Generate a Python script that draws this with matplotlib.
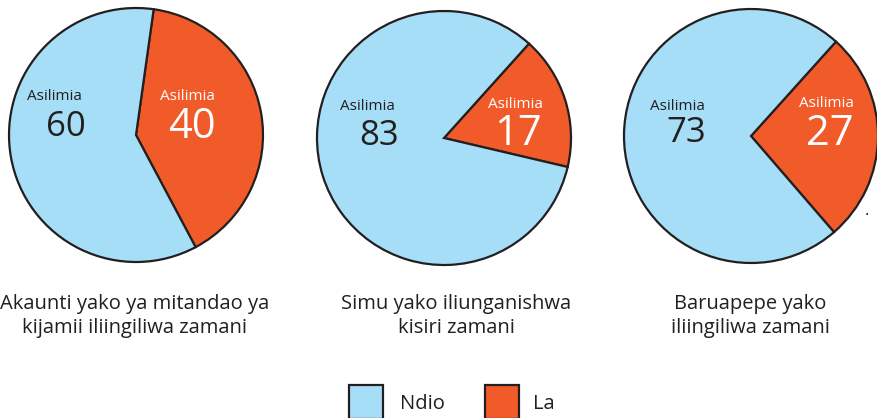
import matplotlib
matplotlib.use("Agg")
import matplotlib.pyplot as plt
from matplotlib.patches import Rectangle

# ---- data ----
categories = ["Ndio", "La"]
ndio = [60, 83, 73]
la = [40, 17, 27]
titles = ["Akaunti yako ya mitandao ya\nkijamii iliingiliwa zamani",
          "Simu yako iliunganishwa\nkisiri zamani",
          "Baruapepe yako\niliingiliwa zamani"]
word = "Asilimia"

# ---- style ----
W, H = 878, 418
BLUE = "#A6DEF8"
ORANGE = "#F15A29"
DARK = "#231F20"
plt.rcParams['font.family'] = ['Open Sans', 'DejaVu Sans']

fig = plt.figure(figsize=(W / 100, H / 100), dpi=100)

def fx(px):
    return px / W

def fy(py):
    return 1 - py / H

centers = [(136, 135), (444, 138), (751, 136)]
R = 127
starts = [82, 48, 48]
# (word x, word baseline y, number x, number baseline y)
dark_lbl = [(54, 100, 66, 136), (367, 110, 379, 145), (677, 110, 686, 142)]
white_lbl = [(187, 100, 192, 138), (515, 108, 518, 145), (826, 107, 830, 145)]
title_pos = [(135, 316), (456, 316), (750, 316)]

for i in range(3):
    cx, cy = centers[i]
    ax = fig.add_axes([fx(cx - R), fy(cy + R), 2 * R / W, 2 * R / H])
    wedges, _ = ax.pie([la[i], ndio[i]], colors=[ORANGE, BLUE], startangle=starts[i],
                       counterclock=False, radius=1,
                       wedgeprops=dict(edgecolor=DARK, linewidth=1.6))
    for w in wedges:
        w.set_clip_on(False)
    ax.set_xlim(-1, 1)
    ax.set_ylim(-1, 1)
    ax.set_aspect('equal')
    ax.axis('off')

    x1, y1, x2, y2 = dark_lbl[i]
    fig.text(fx(x1), fy(y1), word, ha='center', va='baseline', fontsize=11, color=DARK)
    fig.text(fx(x2), fy(y2), str(ndio[i]), ha='center', va='baseline', fontsize=25, color=DARK)
    x1, y1, x2, y2 = white_lbl[i]
    fig.text(fx(x1), fy(y1), word, ha='center', va='baseline', fontsize=11, color='white')
    fig.text(fx(x2), fy(y2), str(la[i]), ha='center', va='baseline', fontsize=30, color='white')

    tx, ty = title_pos[i]
    fig.text(fx(tx), fy(ty), titles[i], ha='center', va='center', fontsize=14.5,
             color=DARK, linespacing=1.25)

# stray dot
fig.text(fx(866.5), fy(219), ".", ha='center', va='bottom', fontsize=12, color=DARK)

# legend
leg = [(349, BLUE, 400), (485, ORANGE, 533)]
for (bx, col, tx), lab in zip(leg, categories):
    fig.patches.append(Rectangle((fx(bx), fy(419)), 34 / W, 34 / H, transform=fig.transFigure,
                                 facecolor=col, edgecolor=DARK, linewidth=1.6, clip_on=False))
    fig.text(fx(tx), fy(404), lab, ha='left', va='center', fontsize=14.5, color=DARK)

fig.savefig("out.png", dpi=100)
